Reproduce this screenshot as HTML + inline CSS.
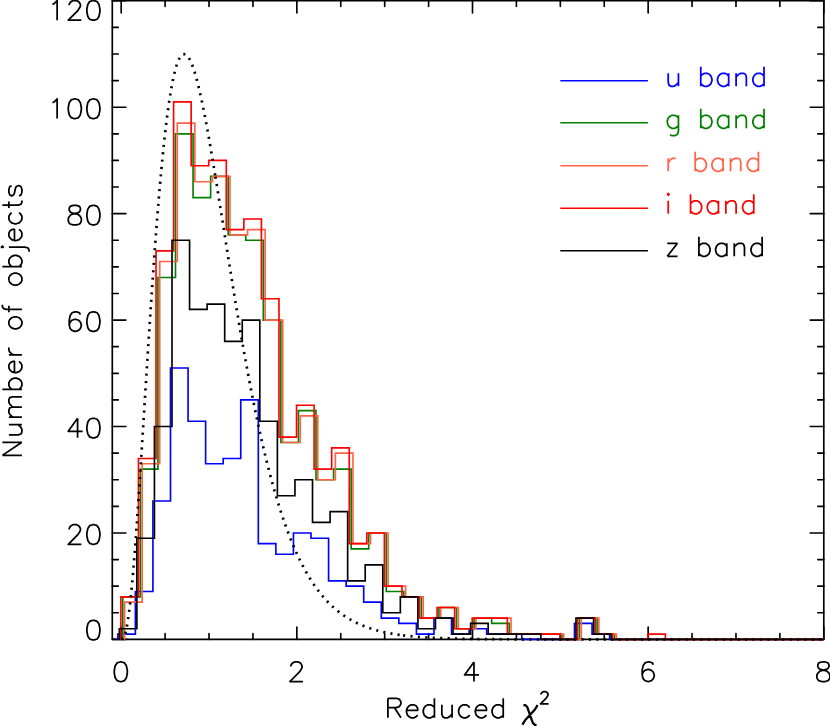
<!DOCTYPE html>
<html><head><meta charset="utf-8"><title>Reduced chi2 histogram</title>
<style>html,body{margin:0;padding:0;background:#fff;font-family:"Liberation Sans",sans-serif;}svg{display:block}</style>
</head><body>
<svg width="830" height="726" viewBox="0 0 830 726">
<rect width="830" height="726" fill="#fff"/>
<path d="M112.3 0.55 H823.8 V639.4 H112.3 Z" fill="none" stroke="#000" stroke-width="1.65" stroke-linejoin="round"/>
<path d="M121.2 639.4 v-12.35 M121.2 0.55 v12.35 M165.11 639.4 v-5.9 M165.11 0.55 v5.9 M209.03 639.4 v-5.9 M209.03 0.55 v5.9 M252.94 639.4 v-5.9 M252.94 0.55 v5.9 M296.85 639.4 v-12.35 M296.85 0.55 v12.35 M340.76 639.4 v-5.9 M340.76 0.55 v5.9 M384.68 639.4 v-5.9 M384.68 0.55 v5.9 M428.59 639.4 v-5.9 M428.59 0.55 v5.9 M472.5 639.4 v-12.35 M472.5 0.55 v12.35 M516.41 639.4 v-5.9 M516.41 0.55 v5.9 M560.33 639.4 v-5.9 M560.33 0.55 v5.9 M604.24 639.4 v-5.9 M604.24 0.55 v5.9 M648.15 639.4 v-12.35 M648.15 0.55 v12.35 M692.06 639.4 v-5.9 M692.06 0.55 v5.9 M735.98 639.4 v-5.9 M735.98 0.55 v5.9 M779.89 639.4 v-5.9 M779.89 0.55 v5.9 M823.8 639.4 v-12.35 M823.8 0.55 v12.35 M112.3 639.4 h13.6 M823.8 639.4 h-13.6 M112.3 612.79 h6 M823.8 612.79 h-6 M112.3 586.18 h6 M823.8 586.18 h-6 M112.3 559.57 h6 M823.8 559.57 h-6 M112.3 532.96 h13.6 M823.8 532.96 h-13.6 M112.3 506.35 h6 M823.8 506.35 h-6 M112.3 479.74 h6 M823.8 479.74 h-6 M112.3 453.13 h6 M823.8 453.13 h-6 M112.3 426.52 h13.6 M823.8 426.52 h-13.6 M112.3 399.91 h6 M823.8 399.91 h-6 M112.3 373.3 h6 M823.8 373.3 h-6 M112.3 346.69 h6 M823.8 346.69 h-6 M112.3 320.08 h13.6 M823.8 320.08 h-13.6 M112.3 293.47 h6 M823.8 293.47 h-6 M112.3 266.86 h6 M823.8 266.86 h-6 M112.3 240.25 h6 M823.8 240.25 h-6 M112.3 213.64 h13.6 M823.8 213.64 h-13.6 M112.3 187.03 h6 M823.8 187.03 h-6 M112.3 160.42 h6 M823.8 160.42 h-6 M112.3 133.81 h6 M823.8 133.81 h-6 M112.3 107.2 h13.6 M823.8 107.2 h-13.6 M112.3 80.59 h6 M823.8 80.59 h-6 M112.3 53.98 h6 M823.8 53.98 h-6 M112.3 27.37 h6 M823.8 27.37 h-6 M112.3 0.76 h13.6 M823.8 0.76 h-13.6" fill="none" stroke="#000" stroke-width="1.65" stroke-linecap="round"/>
<path d="M117.8 639.8 V634.08 H135.37 V591.5 H152.93 V501.03 H170.5 V367.98 H188.06 V421.2 H205.62 V463.77 H223.19 V458.45 H240.75 V399.91 H258.32 V543.6 H275.88 V554.25 H293.45 V532.96 H311.01 V538.28 H328.58 V580.86 H346.15 V586.18 H363.71 V602.15 H381.28 V618.11 H398.84 V623.43 H416.41 V634.08 H433.97 V618.11 H451.54 V634.08 H469.1 V628.76 H486.67 V634.08 H504.23 V634.08 H521.79 V639.3 H539.36 V639.3 H556.93 V639.3 H574.49 V623.43 H592.06 V634.08 H609.62 V639.3 H823.8" fill="none" stroke="#0000ff" stroke-width="1.65" stroke-linejoin="miter"/>
<path d="M122.8 639.8 V596.82 H140.37 V469.1 H157.93 V277.5 H175.5 V133.81 H193.06 V197.67 H210.62 V176.39 H228.19 V234.93 H245.75 V240.25 H263.32 V320.08 H280.88 V442.49 H298.45 V410.55 H316.01 V479.74 H333.58 V469.1 H351.15 V548.93 H368.71 V532.96 H386.28 V591.5 H403.84 V596.82 H421.41 V618.11 H438.97 V607.47 H456.54 V628.76 H474.1 V618.11 H491.67 V623.43 H509.23 V634.08 H526.79 V634.08 H544.36 V634.08 H561.93 V639.3 H579.49 V618.11 H597.06 V634.08 H614.62 V639.3 H823.8" fill="none" stroke="#008000" stroke-width="1.65" stroke-linejoin="miter"/>
<path d="M124.6 639.8 V602.15 H142.16 V463.77 H159.73 V261.54 H177.3 V123.17 H194.86 V181.71 H212.43 V176.39 H229.99 V234.93 H247.56 V229.61 H265.12 V320.08 H282.69 V442.49 H300.25 V415.88 H317.81 V479.74 H335.38 V453.13 H352.95 V543.6 H370.51 V532.96 H388.08 V586.18 H405.64 V596.82 H423.21 V618.11 H440.77 V607.47 H458.34 V628.76 H475.9 V618.11 H493.47 V618.11 H511.03 V634.08 H528.6 V634.08 H546.16 V634.08 H563.73 V639.3 H581.29 V618.11 H598.86 V634.08 H616.42 V639.3 H823.8" fill="none" stroke="#ff6347" stroke-width="1.65" stroke-linejoin="miter"/>
<path d="M120.9 639.8 V596.82 H138.47 V458.45 H156.03 V250.89 H173.6 V101.88 H191.16 V165.74 H208.73 V160.42 H226.29 V229.61 H243.86 V218.96 H261.42 V298.79 H278.99 V437.16 H296.55 V405.23 H314.12 V469.1 H331.68 V447.81 H349.25 V543.6 H366.81 V532.96 H384.38 V586.18 H401.94 V596.82 H419.5 V618.11 H437.07 V607.47 H454.63 V628.76 H472.2 V618.11 H489.76 V618.11 H507.33 V634.08 H524.89 V634.08 H542.46 V634.08 H560.03 V639.3 H577.59 V618.11 H595.16 V634.08 H612.72 V639.3 H630.29 V639.3 H647.85 V634.08 H665.41 V639.3 H823.8" fill="none" stroke="#ff0000" stroke-width="1.65" stroke-linejoin="miter"/>
<path d="M119.3 639.8 V628.76 H136.87 V538.28 H154.43 V426.52 H172 V240.25 H189.56 V309.44 H207.12 V304.11 H224.69 V341.37 H242.25 V320.08 H259.82 V421.2 H277.38 V495.71 H294.95 V479.74 H312.51 V522.32 H330.08 V511.67 H347.65 V580.86 H365.21 V564.89 H382.78 V612.79 H400.34 V596.82 H417.91 V628.76 H435.47 V618.11 H453.04 V634.08 H470.6 V623.43 H488.17 V634.08 H505.73 V634.08 H523.29 V634.08 H540.86 V639.4 H558.43 V639.4 H575.99 V618.11 H593.56 V634.08 H611.12 V639.4 H823.8" fill="none" stroke="#000000" stroke-width="1.65" stroke-linejoin="miter"/>
<path d="M121.4 639.4L123.16 638.52 M125.25 633.68L125.79 631.65 M126.88 626.47L127.25 624.4 M128.08 619.17L128.38 617.09 M129.08 611.83L129.34 609.75 M129.96 604.49L130.2 602.4 M130.76 597.13L130.98 595.04 M131.5 589.77L131.7 587.68 M132.2 582.4L132.39 580.31 M132.85 575.03L133.04 572.94 M133.48 567.66L133.66 565.56 M134.09 560.28L134.25 558.19 M134.67 552.9L134.83 550.81 M135.24 545.53L135.39 543.43 M135.79 538.15L135.94 536.05 M136.33 530.77L136.48 528.67 M136.85 523.38L137 521.29 M137.37 516L137.51 513.91 M137.88 508.62L138.02 506.53 M138.38 501.24L138.52 499.14 M138.87 493.85L139.01 491.76 M139.36 486.47L139.5 484.37 M139.85 479.09L139.98 476.99 M140.33 471.7L140.46 469.61 M140.8 464.32L140.94 462.22 M141.27 456.93L141.41 454.84 M141.74 449.55L141.88 447.45 M142.21 442.16L142.34 440.07 M142.68 434.78L142.81 432.68 M143.14 427.39L143.27 425.29 M143.6 420.01L143.73 417.91 M144.07 412.62L144.2 410.52 M144.53 405.23L144.66 403.14 M144.99 397.85L145.12 395.75 M145.45 390.46L145.58 388.37 M145.92 383.08L146.05 380.98 M146.38 375.69L146.51 373.6 M146.85 368.31L146.98 366.21 M147.31 360.92L147.45 358.83 M147.78 353.54L147.92 351.44 M148.25 346.15L148.39 344.06 M148.73 338.77L148.86 336.67 M149.21 331.38L149.34 329.29 M149.69 324L149.82 321.9 M150.17 316.61L150.31 314.52 M150.66 309.23L150.8 307.13 M151.15 301.85L151.29 299.75 M151.65 294.46L151.79 292.37 M152.15 287.08L152.3 284.98 M152.66 279.7L152.81 277.6 M153.18 272.32L153.32 270.22 M153.7 264.93L153.85 262.84 M154.23 257.55L154.38 255.46 M154.76 250.17L154.92 248.08 M155.31 242.79L155.46 240.7 M155.86 235.41L156.02 233.32 M156.42 228.03L156.59 225.94 M157 220.66L157.16 218.56 M157.59 213.28L157.75 211.19 M158.18 205.9L158.36 203.81 M158.8 198.53L158.97 196.44 M159.42 191.16L159.6 189.06 M160.07 183.78L160.25 181.69 M160.73 176.41L160.92 174.32 M161.41 169.05L161.61 166.95 M162.11 161.68L162.32 159.59 M162.84 154.31L163.05 152.23 M163.6 146.95L163.82 144.87 M164.38 139.6L164.61 137.51 M165.21 132.24L165.45 130.16 M166.07 124.89L166.32 122.81 M166.98 117.55L167.25 115.47 M167.95 110.21L168.24 108.13 M168.99 102.88L169.29 100.81 M170.11 95.57L170.44 93.5 M171.34 88.27L171.71 86.21 M172.71 81L173.14 78.95 M174.29 73.77L174.79 71.73 M176.2 66.63L176.84 64.62 M178.74 59.68L179.7 57.81 M183.32 54.1L185.37 54.26 M188.95 58.07L189.96 59.91 M192.09 64.76L192.83 66.72 M194.51 71.75L195.12 73.76 M196.56 78.86L197.1 80.89 M198.4 86.03L198.9 88.07 M200.1 93.23L200.56 95.28 M201.68 100.46L202.12 102.51 M203.19 107.7L203.6 109.76 M204.63 114.96L205.02 117.02 M206.01 122.23L206.4 124.3 M207.36 129.51L207.73 131.57 M208.67 136.79L209.03 138.86 M209.95 144.08L210.31 146.15 M211.2 151.37L211.55 153.44 M212.44 158.67L212.78 160.74 M213.65 165.97L214 168.04 M214.86 173.27L215.19 175.34 M215.42 176.72L215.76 178.8 M216.61 184.03L216.94 186.1 M217.78 191.33L218.11 193.41 M218.95 198.64L219.28 200.71 M220.11 205.95L220.44 208.02 M221.27 213.26L221.6 215.33 M222.43 220.57L222.76 222.64 M223.58 227.88L223.91 229.95 M224.74 235.19L225.07 237.26 M225.89 242.49L226.22 244.57 M227.05 249.8L227.38 251.88 M228.21 257.11L228.54 259.19 M229.38 264.42L229.71 266.49 M230.54 271.73L230.88 273.8 M231.72 279.03L232.06 281.11 M232.9 286.34L233.24 288.41 M234.09 293.64L234.43 295.71 M235.3 300.94L235.64 303.02 M236.51 308.24L236.85 310.32 M237.73 315.54L238.08 317.61 M238.96 322.84L239.31 324.91 M240.21 330.13L240.56 332.2 M241.47 337.42L241.83 339.49 M242.74 344.71L243.11 346.78 M244.04 352L244.41 354.07 M245.35 359.28L245.72 361.35 M246.68 366.56L247.06 368.63 M248.03 373.84L248.42 375.9 M249.4 381.11L249.8 383.17 M250.8 388.38L251.2 390.44 M252.22 395.64L252.63 397.7 M253.67 402.89L254.09 404.95 M255.15 410.15L255.58 412.2 M256.66 417.39L257.1 419.44 M258.21 424.63L258.65 426.68 M259.78 431.86L260.24 433.91 M261.4 439.08L261.87 441.13 M263.06 446.29L263.54 448.33 M264.76 453.49L265.26 455.53 M266.52 460.68L267.02 462.72 M268.32 467.86L268.84 469.89 M270.18 475.02L270.72 477.05 M272.1 482.17L272.65 484.19 M274.08 489.3L274.66 491.31 M276.14 496.4L276.74 498.42 M278.27 503.49L278.9 505.5 M280.49 510.55L281.14 512.55 M282.81 517.58L283.48 519.57 M285.22 524.57L285.93 526.55 M287.75 531.53L288.49 533.49 M290.4 538.43L291.18 540.38 M293.2 545.29L294.02 547.22 M296.09 551.97L296.96 553.88 M299.15 558.57L300.07 560.46 M302.4 565.09L303.37 566.95 M305.84 571.5L306.88 573.33 M309.52 577.78L310.62 579.57 M313.44 583.91L314.63 585.65 M317.65 589.86L318.91 591.53 M322.15 595.58L323.5 597.18 M326.97 601.03L328.42 602.55 M332.13 606.17L333.68 607.58 M337.61 610.91L339.26 612.21 M343.41 615.25L345.16 616.42 M349.53 619.14L351.35 620.18 M355.91 622.57L357.81 623.48 M362.53 625.54L364.48 626.32 M369.32 628.07L371.32 628.72 M376.25 630.19L378.28 630.73 M383.29 631.95L385.34 632.4 M390.39 633.4L392.46 633.77 M397.54 634.58L399.62 634.88 M403.09 635.34L405.17 635.59 M410.48 636.17L412.57 636.38 M417.88 636.84L419.98 637 M425.3 637.37L427.39 637.5 M432.72 637.8L434.82 637.9 M440.15 638.14L442.25 638.22 M447.58 638.41L449.68 638.47 M455.01 638.62L457.11 638.67 M462.44 638.78L464.54 638.83 M469.88 638.92L471.98 638.95 M477.31 639.02L479.41 639.05 M484.75 639.1L486.85 639.12 M492.18 639.17L494.28 639.18 M499.62 639.22L501.72 639.23 M507.05 639.26L509.15 639.27 M514.49 639.29L516.59 639.3 M521.92 639.31L524.02 639.32 M529.36 639.33L531.46 639.34 M536.79 639.35L538.89 639.35 M544.23 639.36L546.33 639.36 M551.66 639.37L553.76 639.37 M559.1 639.38L561.2 639.38 M566.53 639.38L568.63 639.38 M573.97 639.39L576.07 639.39 M581.4 639.39L583.5 639.39 M588.84 639.39L590.94 639.39 M596.27 639.39L598.37 639.39 M603.71 639.39L605.81 639.4 M611.14 639.4L613.24 639.4 M618.58 639.4L620.68 639.4 M626.01 639.4L628.11 639.4 M633.45 639.4L635.55 639.4 M640.88 639.4L642.98 639.4 M648.32 639.4L650.42 639.4 M655.75 639.4L657.85 639.4 M663.19 639.4L665.29 639.4 M670.62 639.4L672.72 639.4 M678.06 639.4L680.16 639.4 M685.49 639.4L687.59 639.4 M692.93 639.4L695.03 639.4 M700.36 639.4L702.46 639.4 M707.8 639.4L709.9 639.4 M715.23 639.4L717.33 639.4 M722.67 639.4L724.77 639.4 M730.1 639.4L732.2 639.4 M737.54 639.4L739.64 639.4 M744.97 639.4L747.07 639.4 M752.41 639.4L754.51 639.4 M759.84 639.4L761.94 639.4 M767.28 639.4L769.38 639.4 M774.71 639.4L776.81 639.4 M782.15 639.4L784.25 639.4 M789.58 639.4L791.68 639.4 M797.02 639.4L799.12 639.4 M804.45 639.4L806.55 639.4 M811.89 639.4L813.99 639.4 M819.32 639.4L821.42 639.4" fill="none" stroke="#000" stroke-width="2.7"/>
<path d="M119.87 661.97 L117.08 662.9 L115.22 665.69 L114.29 670.34 L114.29 673.13 L115.22 677.78 L117.08 680.57 L119.87 681.5 L121.73 681.5 L124.52 680.57 L126.38 677.78 L127.31 673.13 L127.31 670.34 L126.38 665.69 L124.52 662.9 L121.73 661.97 L119.87 661.97 M290.87 666.62 L290.87 665.69 L291.8 663.83 L292.73 662.9 L294.59 661.97 L298.31 661.97 L300.17 662.9 L301.1 663.83 L302.03 665.69 L302.03 667.55 L301.1 669.41 L299.24 672.2 L289.94 681.5 L302.96 681.5 M473.96 661.97 L464.57 674.99 L478.98 674.99 M473.96 661.97 L473.96 681.5 M653.33 664.76 L652.4 662.9 L649.61 661.97 L647.75 661.97 L644.96 662.9 L643.1 665.69 L642.17 670.34 L642.17 674.99 L643.1 678.71 L644.96 680.57 L647.75 681.5 L648.68 681.5 L651.47 680.57 L653.33 678.71 L654.26 675.92 L654.26 674.99 L653.33 672.2 L651.47 670.34 L648.68 669.41 L647.75 669.41 L644.96 670.34 L643.1 672.2 L642.17 674.99 M821.54 661.97 L818.75 662.9 L817.82 664.76 L817.82 666.62 L818.75 668.48 L820.61 669.41 L824.33 670.34 L827.12 671.27 L828.98 673.13 L829.91 674.99 L829.91 677.78 L828.98 679.64 L828.05 680.57 L825.26 681.5 L821.54 681.5 L818.75 680.57 L817.82 679.64 L816.89 677.78 L816.89 674.99 L817.82 673.13 L819.68 671.27 L822.47 670.34 L826.19 669.41 L828.05 668.48 L828.98 666.62 L828.98 664.76 L828.05 662.9 L825.26 661.97 L821.54 661.97 M92.47 620.37 L89.68 621.3 L87.82 624.09 L86.89 628.74 L86.89 631.53 L87.82 636.18 L89.68 638.97 L92.47 639.9 L94.33 639.9 L97.12 638.97 L98.98 636.18 L99.91 631.53 L99.91 628.74 L98.98 624.09 L97.12 621.3 L94.33 620.37 L92.47 620.37 M69.22 529.38 L69.22 528.45 L70.15 526.59 L71.08 525.66 L72.94 524.73 L76.66 524.73 L78.52 525.66 L79.45 526.59 L80.38 528.45 L80.38 530.31 L79.45 532.17 L77.59 534.96 L68.29 544.26 L81.31 544.26 M92.47 524.73 L89.68 525.66 L87.82 528.45 L86.89 533.1 L86.89 535.89 L87.82 540.54 L89.68 543.33 L92.47 544.26 L94.33 544.26 L97.12 543.33 L98.98 540.54 L99.91 535.89 L99.91 533.1 L98.98 528.45 L97.12 525.66 L94.33 524.73 L92.47 524.73 M77.59 418.29 L68.2 431.31 L82.61 431.31 M77.59 418.29 L77.59 437.82 M92.47 418.29 L89.68 419.22 L87.82 422.01 L86.89 426.66 L86.89 429.45 L87.82 434.1 L89.68 436.89 L92.47 437.82 L94.33 437.82 L97.12 436.89 L98.98 434.1 L99.91 429.45 L99.91 426.66 L98.98 422.01 L97.12 419.22 L94.33 418.29 L92.47 418.29 M80.38 314.64 L79.45 312.78 L76.66 311.85 L74.8 311.85 L72.01 312.78 L70.15 315.57 L69.22 320.22 L69.22 324.87 L70.15 328.59 L72.01 330.45 L74.8 331.38 L75.73 331.38 L78.52 330.45 L80.38 328.59 L81.31 325.8 L81.31 324.87 L80.38 322.08 L78.52 320.22 L75.73 319.29 L74.8 319.29 L72.01 320.22 L70.15 322.08 L69.22 324.87 M92.47 311.85 L89.68 312.78 L87.82 315.57 L86.89 320.22 L86.89 323.01 L87.82 327.66 L89.68 330.45 L92.47 331.38 L94.33 331.38 L97.12 330.45 L98.98 327.66 L99.91 323.01 L99.91 320.22 L98.98 315.57 L97.12 312.78 L94.33 311.85 L92.47 311.85 M72.94 205.41 L70.15 206.34 L69.22 208.2 L69.22 210.06 L70.15 211.92 L72.01 212.85 L75.73 213.78 L78.52 214.71 L80.38 216.57 L81.31 218.43 L81.31 221.22 L80.38 223.08 L79.45 224.01 L76.66 224.94 L72.94 224.94 L70.15 224.01 L69.22 223.08 L68.29 221.22 L68.29 218.43 L69.22 216.57 L71.08 214.71 L73.87 213.78 L77.59 212.85 L79.45 211.92 L80.38 210.06 L80.38 208.2 L79.45 206.34 L76.66 205.41 L72.94 205.41 M92.47 205.41 L89.68 206.34 L87.82 209.13 L86.89 213.78 L86.89 216.57 L87.82 221.22 L89.68 224.01 L92.47 224.94 L94.33 224.94 L97.12 224.01 L98.98 221.22 L99.91 216.57 L99.91 213.78 L98.98 209.13 L97.12 206.34 L94.33 205.41 L92.47 205.41 M52.48 102.69 L54.34 101.76 L57.13 98.97 L57.13 118.5 M73.87 98.97 L71.08 99.9 L69.22 102.69 L68.29 107.34 L68.29 110.13 L69.22 114.78 L71.08 117.57 L73.87 118.5 L75.73 118.5 L78.52 117.57 L80.38 114.78 L81.31 110.13 L81.31 107.34 L80.38 102.69 L78.52 99.9 L75.73 98.97 L73.87 98.97 M92.47 98.97 L89.68 99.9 L87.82 102.69 L86.89 107.34 L86.89 110.13 L87.82 114.78 L89.68 117.57 L92.47 118.5 L94.33 118.5 L97.12 117.57 L98.98 114.78 L99.91 110.13 L99.91 107.34 L98.98 102.69 L97.12 99.9 L94.33 98.97 L92.47 98.97 M52.48 4.39 L54.34 3.46 L57.13 0.67 L57.13 20.2 M69.22 5.32 L69.22 4.39 L70.15 2.53 L71.08 1.6 L72.94 0.67 L76.66 0.67 L78.52 1.6 L79.45 2.53 L80.38 4.39 L80.38 6.25 L79.45 8.11 L77.59 10.9 L68.29 20.2 L81.31 20.2 M92.47 0.67 L89.68 1.6 L87.82 4.39 L86.89 9.04 L86.89 11.83 L87.82 16.48 L89.68 19.27 L92.47 20.2 L94.33 20.2 L97.12 19.27 L98.98 16.48 L99.91 11.83 L99.91 9.04 L98.98 4.39 L97.12 1.6 L94.33 0.67 L92.47 0.67 M387.91 698.27 L387.91 717.8 M387.91 698.27 L396.28 698.27 L399.07 699.2 L400 700.13 L400.93 701.99 L400.93 703.85 L400 705.71 L399.07 706.64 L396.28 707.57 L387.91 707.57 M394.42 707.57 L400.93 717.8 M406.51 710.36 L417.67 710.36 L417.67 708.5 L416.74 706.64 L415.81 705.71 L413.95 704.78 L411.16 704.78 L409.3 705.71 L407.44 707.57 L406.51 710.36 L406.51 712.22 L407.44 715.01 L409.3 716.87 L411.16 717.8 L413.95 717.8 L415.81 716.87 L417.67 715.01 M434.41 698.27 L434.41 717.8 M434.41 707.57 L432.55 705.71 L430.69 704.78 L427.9 704.78 L426.04 705.71 L424.18 707.57 L423.25 710.36 L423.25 712.22 L424.18 715.01 L426.04 716.87 L427.9 717.8 L430.69 717.8 L432.55 716.87 L434.41 715.01 M441.85 704.78 L441.85 714.08 L442.78 716.87 L444.64 717.8 L447.43 717.8 L449.29 716.87 L452.08 714.08 M452.08 704.78 L452.08 717.8 M469.75 707.57 L467.89 705.71 L466.03 704.78 L463.24 704.78 L461.38 705.71 L459.52 707.57 L458.59 710.36 L458.59 712.22 L459.52 715.01 L461.38 716.87 L463.24 717.8 L466.03 717.8 L467.89 716.87 L469.75 715.01 M475.33 710.36 L486.49 710.36 L486.49 708.5 L485.56 706.64 L484.63 705.71 L482.77 704.78 L479.98 704.78 L478.12 705.71 L476.26 707.57 L475.33 710.36 L475.33 712.22 L476.26 715.01 L478.12 716.87 L479.98 717.8 L482.77 717.8 L484.63 716.87 L486.49 715.01 M503.23 698.27 L503.23 717.8 M503.23 707.57 L501.37 705.71 L499.51 704.78 L496.72 704.78 L494.86 705.71 L493 707.57 L492.07 710.36 L492.07 712.22 L493 715.01 L494.86 716.87 L496.72 717.8 L499.51 717.8 L501.37 716.87 L503.23 715.01 M541.08 694.57 L541.08 694 L541.66 692.84 L542.23 692.27 L543.39 691.69 L545.69 691.69 L546.85 692.27 L547.42 692.84 L548 694 L548 695.15 L547.42 696.3 L546.27 698.03 L540.5 703.8 L548.58 703.8 M2.37 455.36 L21.9 455.36 M2.37 455.36 L21.9 442.34 M2.37 442.34 L21.9 442.34 M8.88 434.9 L18.18 434.9 L20.97 433.97 L21.9 432.11 L21.9 429.32 L20.97 427.46 L18.18 424.67 M8.88 424.67 L21.9 424.67 M8.88 417.23 L21.9 417.23 M12.6 417.23 L9.81 414.44 L8.88 412.58 L8.88 409.79 L9.81 407.93 L12.6 407 L21.9 407 M12.6 407 L9.81 404.21 L8.88 402.35 L8.88 399.56 L9.81 397.7 L12.6 396.77 L21.9 396.77 M2.37 389.33 L21.9 389.33 M11.67 389.33 L9.81 387.47 L8.88 385.61 L8.88 382.82 L9.81 380.96 L11.67 379.1 L14.46 378.17 L16.32 378.17 L19.11 379.1 L20.97 380.96 L21.9 382.82 L21.9 385.61 L20.97 387.47 L19.11 389.33 M14.46 372.59 L14.46 361.43 L12.6 361.43 L10.74 362.36 L9.81 363.29 L8.88 365.15 L8.88 367.94 L9.81 369.8 L11.67 371.66 L14.46 372.59 L16.32 372.59 L19.11 371.66 L20.97 369.8 L21.9 367.94 L21.9 365.15 L20.97 363.29 L19.11 361.43 M8.88 354.92 L21.9 354.92 M14.46 354.92 L11.67 353.99 L9.81 352.13 L8.88 350.27 L8.88 347.48 M8.88 324.23 L9.81 326.09 L11.67 327.95 L14.46 328.88 L16.32 328.88 L19.11 327.95 L20.97 326.09 L21.9 324.23 L21.9 321.44 L20.97 319.58 L19.11 317.72 L16.32 316.79 L14.46 316.79 L11.67 317.72 L9.81 319.58 L8.88 321.44 L8.88 324.23 M2.37 304.7 L2.37 306.56 L3.3 308.42 L6.09 309.35 L21.9 309.35 M8.88 312.14 L8.88 305.63 M8.88 280.52 L9.81 282.38 L11.67 284.24 L14.46 285.17 L16.32 285.17 L19.11 284.24 L20.97 282.38 L21.9 280.52 L21.9 277.73 L20.97 275.87 L19.11 274.01 L16.32 273.08 L14.46 273.08 L11.67 274.01 L9.81 275.87 L8.88 277.73 L8.88 280.52 M2.37 266.57 L21.9 266.57 M11.67 266.57 L9.81 264.71 L8.88 262.85 L8.88 260.06 L9.81 258.2 L11.67 256.34 L14.46 255.41 L16.32 255.41 L19.11 256.34 L20.97 258.2 L21.9 260.06 L21.9 262.85 L20.97 264.71 L19.11 266.57 M2.37 247.97 L3.3 247.04 L2.37 246.11 L1.44 247.04 L2.37 247.97 M8.88 247.04 L24.97 247.04 L28.04 247.97 L29.06 249.83 L29.06 251.69 M14.46 240.53 L14.46 229.37 L12.6 229.37 L10.74 230.3 L9.81 231.23 L8.88 233.09 L8.88 235.88 L9.81 237.74 L11.67 239.6 L14.46 240.53 L16.32 240.53 L19.11 239.6 L20.97 237.74 L21.9 235.88 L21.9 233.09 L20.97 231.23 L19.11 229.37 M11.67 212.63 L9.81 214.49 L8.88 216.35 L8.88 219.14 L9.81 221 L11.67 222.86 L14.46 223.79 L16.32 223.79 L19.11 222.86 L20.97 221 L21.9 219.14 L21.9 216.35 L20.97 214.49 L19.11 212.63 M2.37 205.19 L18.18 205.19 L20.97 204.26 L21.9 202.4 L21.9 200.54 M8.88 207.98 L8.88 201.47 M11.67 185.66 L9.81 186.59 L8.88 189.38 L8.88 192.17 L9.81 194.96 L11.67 195.89 L13.53 194.96 L14.46 193.1 L15.39 188.45 L16.32 186.59 L18.18 185.66 L19.11 185.66 L20.97 186.59 L21.9 189.38 L21.9 192.17 L20.97 194.96 L19.11 195.89" fill="none" stroke="#000" stroke-width="1.75" stroke-linejoin="round"/>
<path d="M523.41 705.05 L525.29 705.05 L527.17 706.93 L532.81 722.9 L534.68 724.78 L536.56 724.78 M537.5 705.05 L536.56 706.93 L534.68 709.75 L525.29 720.08 L523.41 722.9 L522.47 724.78" fill="none" stroke="#000" stroke-width="2.25" stroke-linejoin="round"/>
<path d="M560.3 80.7 H647.9" fill="none" stroke="#0000ff" stroke-width="1.65"/>
<path d="M668.22 73.28 L668.22 82.58 L669.15 85.37 L671.01 86.3 L673.8 86.3 L675.66 85.37 L678.45 82.58 M678.45 73.28 L678.45 86.3 M700.77 66.77 L700.77 86.3 M700.77 76.07 L702.63 74.21 L704.49 73.28 L707.28 73.28 L709.14 74.21 L711 76.07 L711.93 78.86 L711.93 80.72 L711 83.51 L709.14 85.37 L707.28 86.3 L704.49 86.3 L702.63 85.37 L700.77 83.51 M728.67 73.28 L728.67 86.3 M728.67 76.07 L726.81 74.21 L724.95 73.28 L722.16 73.28 L720.3 74.21 L718.44 76.07 L717.51 78.86 L717.51 80.72 L718.44 83.51 L720.3 85.37 L722.16 86.3 L724.95 86.3 L726.81 85.37 L728.67 83.51 M736.11 73.28 L736.11 86.3 M736.11 77 L738.9 74.21 L740.76 73.28 L743.55 73.28 L745.41 74.21 L746.34 77 L746.34 86.3 M764.01 66.77 L764.01 86.3 M764.01 76.07 L762.15 74.21 L760.29 73.28 L757.5 73.28 L755.64 74.21 L753.78 76.07 L752.85 78.86 L752.85 80.72 L753.78 83.51 L755.64 85.37 L757.5 86.3 L760.29 86.3 L762.15 85.37 L764.01 83.51" fill="none" stroke="#0000ff" stroke-width="1.75" stroke-linejoin="round"/>
<path d="M560.3 122.7 H647.9" fill="none" stroke="#008000" stroke-width="1.65"/>
<path d="M678.45 115.28 L678.45 131.09 L677.52 133.88 L676.59 134.81 L674.73 135.74 L671.94 135.74 L670.08 134.81 M678.45 118.07 L676.59 116.21 L674.73 115.28 L671.94 115.28 L670.08 116.21 L668.22 118.07 L667.29 120.86 L667.29 122.72 L668.22 125.51 L670.08 127.37 L671.94 128.3 L674.73 128.3 L676.59 127.37 L678.45 125.51 M700.77 108.77 L700.77 128.3 M700.77 118.07 L702.63 116.21 L704.49 115.28 L707.28 115.28 L709.14 116.21 L711 118.07 L711.93 120.86 L711.93 122.72 L711 125.51 L709.14 127.37 L707.28 128.3 L704.49 128.3 L702.63 127.37 L700.77 125.51 M728.67 115.28 L728.67 128.3 M728.67 118.07 L726.81 116.21 L724.95 115.28 L722.16 115.28 L720.3 116.21 L718.44 118.07 L717.51 120.86 L717.51 122.72 L718.44 125.51 L720.3 127.37 L722.16 128.3 L724.95 128.3 L726.81 127.37 L728.67 125.51 M736.11 115.28 L736.11 128.3 M736.11 119 L738.9 116.21 L740.76 115.28 L743.55 115.28 L745.41 116.21 L746.34 119 L746.34 128.3 M764.01 108.77 L764.01 128.3 M764.01 118.07 L762.15 116.21 L760.29 115.28 L757.5 115.28 L755.64 116.21 L753.78 118.07 L752.85 120.86 L752.85 122.72 L753.78 125.51 L755.64 127.37 L757.5 128.3 L760.29 128.3 L762.15 127.37 L764.01 125.51" fill="none" stroke="#008000" stroke-width="1.75" stroke-linejoin="round"/>
<path d="M560.3 165.7 H647.9" fill="none" stroke="#ff6347" stroke-width="1.65"/>
<path d="M668.22 158.28 L668.22 171.3 M668.22 163.86 L669.15 161.07 L671.01 159.21 L672.87 158.28 L675.66 158.28 M695.19 151.77 L695.19 171.3 M695.19 161.07 L697.05 159.21 L698.91 158.28 L701.7 158.28 L703.56 159.21 L705.42 161.07 L706.35 163.86 L706.35 165.72 L705.42 168.51 L703.56 170.37 L701.7 171.3 L698.91 171.3 L697.05 170.37 L695.19 168.51 M723.09 158.28 L723.09 171.3 M723.09 161.07 L721.23 159.21 L719.37 158.28 L716.58 158.28 L714.72 159.21 L712.86 161.07 L711.93 163.86 L711.93 165.72 L712.86 168.51 L714.72 170.37 L716.58 171.3 L719.37 171.3 L721.23 170.37 L723.09 168.51 M730.53 158.28 L730.53 171.3 M730.53 162 L733.32 159.21 L735.18 158.28 L737.97 158.28 L739.83 159.21 L740.76 162 L740.76 171.3 M758.43 151.77 L758.43 171.3 M758.43 161.07 L756.57 159.21 L754.71 158.28 L751.92 158.28 L750.06 159.21 L748.2 161.07 L747.27 163.86 L747.27 165.72 L748.2 168.51 L750.06 170.37 L751.92 171.3 L754.71 171.3 L756.57 170.37 L758.43 168.51" fill="none" stroke="#ff6347" stroke-width="1.75" stroke-linejoin="round"/>
<path d="M560.3 208.2 H647.9" fill="none" stroke="#ff0000" stroke-width="1.65"/>
<path d="M667.29 194.27 L668.22 195.2 L669.15 194.27 L668.22 193.34 L667.29 194.27 M668.22 200.78 L668.22 213.8 M690.54 194.27 L690.54 213.8 M690.54 203.57 L692.4 201.71 L694.26 200.78 L697.05 200.78 L698.91 201.71 L700.77 203.57 L701.7 206.36 L701.7 208.22 L700.77 211.01 L698.91 212.87 L697.05 213.8 L694.26 213.8 L692.4 212.87 L690.54 211.01 M718.44 200.78 L718.44 213.8 M718.44 203.57 L716.58 201.71 L714.72 200.78 L711.93 200.78 L710.07 201.71 L708.21 203.57 L707.28 206.36 L707.28 208.22 L708.21 211.01 L710.07 212.87 L711.93 213.8 L714.72 213.8 L716.58 212.87 L718.44 211.01 M725.88 200.78 L725.88 213.8 M725.88 204.5 L728.67 201.71 L730.53 200.78 L733.32 200.78 L735.18 201.71 L736.11 204.5 L736.11 213.8 M753.78 194.27 L753.78 213.8 M753.78 203.57 L751.92 201.71 L750.06 200.78 L747.27 200.78 L745.41 201.71 L743.55 203.57 L742.62 206.36 L742.62 208.22 L743.55 211.01 L745.41 212.87 L747.27 213.8 L750.06 213.8 L751.92 212.87 L753.78 211.01" fill="none" stroke="#ff0000" stroke-width="1.75" stroke-linejoin="round"/>
<path d="M560.3 250.7 H647.9" fill="none" stroke="#000000" stroke-width="1.65"/>
<path d="M677.52 243.28 L667.29 256.3 M667.29 243.28 L677.52 243.28 M667.29 256.3 L677.52 256.3 M698.91 236.77 L698.91 256.3 M698.91 246.07 L700.77 244.21 L702.63 243.28 L705.42 243.28 L707.28 244.21 L709.14 246.07 L710.07 248.86 L710.07 250.72 L709.14 253.51 L707.28 255.37 L705.42 256.3 L702.63 256.3 L700.77 255.37 L698.91 253.51 M726.81 243.28 L726.81 256.3 M726.81 246.07 L724.95 244.21 L723.09 243.28 L720.3 243.28 L718.44 244.21 L716.58 246.07 L715.65 248.86 L715.65 250.72 L716.58 253.51 L718.44 255.37 L720.3 256.3 L723.09 256.3 L724.95 255.37 L726.81 253.51 M734.25 243.28 L734.25 256.3 M734.25 247 L737.04 244.21 L738.9 243.28 L741.69 243.28 L743.55 244.21 L744.48 247 L744.48 256.3 M762.15 236.77 L762.15 256.3 M762.15 246.07 L760.29 244.21 L758.43 243.28 L755.64 243.28 L753.78 244.21 L751.92 246.07 L750.99 248.86 L750.99 250.72 L751.92 253.51 L753.78 255.37 L755.64 256.3 L758.43 256.3 L760.29 255.37 L762.15 253.51" fill="none" stroke="#000000" stroke-width="1.75" stroke-linejoin="round"/>
</svg>
</body></html>
